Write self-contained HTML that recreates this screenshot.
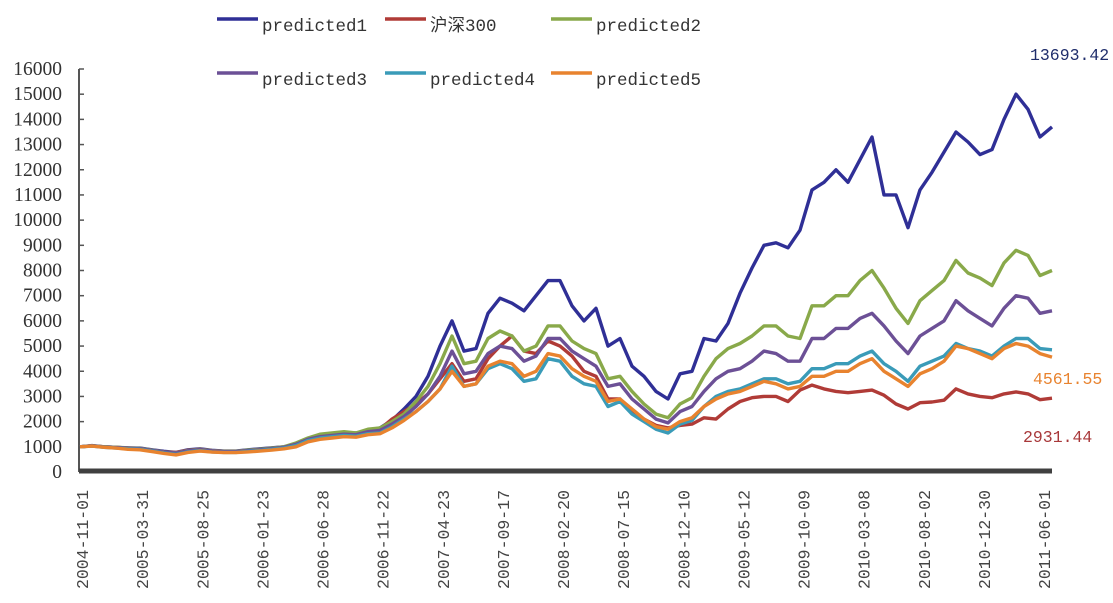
<!DOCTYPE html>
<html><head><meta charset="utf-8"><style>
body{margin:0;background:#fff;}
svg{display:block;}
</style></head><body>
<svg id="chart" width="1113" height="603" viewBox="0 0 1113 603" xmlns="http://www.w3.org/2000/svg"></svg>
<script>
const categories = ["2004-11-01","2005-03-31","2005-08-25","2006-01-23","2006-06-28","2006-11-22","2007-04-23","2007-09-17","2008-02-20","2008-07-15","2008-12-10","2009-05-12","2009-10-09","2010-03-08","2010-08-02","2010-12-30","2011-06-01"];
const yTicks = [0,1000,2000,3000,4000,5000,6000,7000,8000,9000,10000,11000,12000,13000,14000,15000,16000];
const seriesNames = ["predicted1","沪深300","predicted2","predicted3","predicted4","predicted5"];
const predicted1 = [1000,1050,1000,980,950,950,880,820,780,880,920,860,830,830,880,920,960,1000,1100,1300,1450,1500,1550,1550,1650,1750,2050,2500,3000,3800,5000,6000,4800,4900,6300,6900,6700,6400,7000,7600,7600,6600,6000,6500,5000,5300,4200,3800,3200,2900,3900,4000,5300,5200,5900,7100,8100,9000,9100,8900,9600,11200,11500,12000,11500,12400,13300,11000,11000,9700,11200,11900,12700,13500,13100,12600,12800,14000,15000,14400,13300,13700];
const hs300 = [1000,1040,1000,980,950,930,860,800,780,860,900,850,820,820,850,880,920,960,1050,1250,1400,1450,1500,1480,1600,1700,2100,2400,2700,3100,3700,4300,3600,3700,4500,5000,5400,4800,4700,5200,5000,4600,4000,3800,2900,2900,2400,2100,1850,1750,1850,1900,2150,2100,2500,2800,2950,3000,3000,2800,3250,3450,3300,3200,3150,3200,3250,3050,2700,2500,2750,2780,2850,3300,3100,3000,2950,3100,3180,3100,2870,2930];
const predicted2 = [1000,1040,1000,980,960,940,870,800,760,850,900,850,820,820,870,900,950,1000,1150,1350,1500,1550,1600,1550,1700,1750,2000,2300,2800,3400,4300,5400,4300,4400,5300,5600,5400,4800,5000,5800,5800,5200,4900,4700,3700,3800,3200,2700,2300,2150,2700,2950,3800,4500,4900,5100,5400,5800,5800,5400,5300,6600,6600,7000,7000,7600,8000,7300,6500,5900,6800,7200,7600,8400,7900,7700,7400,8300,8800,8600,7800,8000];
const predicted3 = [1000,1040,990,970,950,930,860,790,750,840,890,840,810,810,850,880,930,980,1100,1300,1400,1450,1500,1480,1600,1650,1900,2200,2600,3100,3800,4800,3900,4000,4700,5000,4900,4400,4600,5300,5300,4800,4500,4200,3400,3500,2900,2500,2100,1950,2400,2600,3200,3700,4000,4100,4400,4800,4700,4400,4400,5300,5300,5700,5700,6100,6300,5800,5200,4700,5400,5700,6000,6800,6400,6100,5800,6500,7000,6900,6300,6400];
const predicted4 = [1000,1030,980,950,920,900,830,760,700,800,850,800,780,780,820,850,900,950,1050,1250,1350,1400,1450,1420,1520,1550,1800,2100,2400,2800,3300,4200,3400,3500,4100,4300,4100,3600,3700,4500,4400,3800,3500,3400,2600,2800,2300,2000,1700,1550,1900,2050,2600,3000,3200,3300,3500,3700,3700,3500,3600,4100,4100,4300,4300,4600,4800,4300,4000,3600,4200,4400,4600,5100,4900,4800,4600,5000,5300,5300,4900,4850];
const predicted5 = [1000,1030,980,950,900,880,810,740,680,780,830,790,770,770,800,830,870,920,1000,1200,1300,1350,1400,1380,1480,1520,1750,2050,2400,2800,3300,4000,3400,3500,4200,4400,4300,3800,4000,4700,4600,4100,3800,3600,2800,2900,2500,2100,1800,1700,2000,2150,2600,2900,3100,3200,3400,3600,3500,3300,3400,3800,3800,4000,4000,4300,4500,4000,3700,3400,3900,4100,4400,5000,4900,4700,4500,4900,5100,5000,4700,4561.55];
const endLabels = ["13693.42","4561.55","2931.44"];

const NS="http://www.w3.org/2000/svg";
const svg=document.getElementById('chart');
const X0=80,X1=1052,Y0=472,Y1=69;
const yMax=16000;
function yScale(v){return Y0-(v/yMax)*(Y0-Y1);}
function xIdx(i,n){return X0+i*(X1-X0)/(n-1);}
function xCat(k){return X0+2+k*(X1-10-X0)/(categories.length-1);}
function mk(tag,attrs){const e=document.createElementNS(NS,tag);for(const k in attrs)e.setAttribute(k,attrs[k]);svg.appendChild(e);return e;}

const ya=mk('line',{x1:79,y1:Y1,x2:79,y2:Y0,stroke:'#555','stroke-width':2});


yTicks.forEach(v=>{
  const t=mk('line',{x1:79,x2:84,y1:yScale(v),y2:yScale(v),stroke:'#555','stroke-width':1.5});
  
  
  const l=mk('text',{x:62,y:yScale(v)+6,'text-anchor':'end','font-family':'"Liberation Serif", serif','font-size':19.5,fill:'#333'});
  l.textContent=v;
  
  
});
categories.forEach((c,k)=>{
  const x=xCat(k);
  const l=mk('text',{x:0,y:0,transform:`translate(${x+6},490) rotate(-90)`,'text-anchor':'end','font-family':'"Liberation Mono", monospace','font-size':16.5,fill:'#444'});
  l.textContent=c;
  
  
});

const colors=['#2f2f96','#b03b37','#89a94a','#6c5096','#3a9bb8','#e8832f'];
const data=[predicted1,hs300,predicted2,predicted3,predicted4,predicted5];
data.forEach((arr,s)=>{
  const pts=arr.map((v,i)=>xIdx(i,arr.length).toFixed(1)+','+yScale(v).toFixed(1)).join(' ');
  const p=mk('polyline',{points:pts,fill:'none',stroke:colors[s],'stroke-width':3.4,'stroke-linejoin':'round'});
  
  
});

const xa=mk('line',{x1:79,y1:471,x2:1052,y2:471,stroke:'#404040','stroke-width':5});



const legPos=[[217,19],[385,19],[551,19],[217,73],[385,73],[551,73]];
seriesNames.forEach((n,s)=>{
  const [lx,ly]=legPos[s];
  const g=mk('g',{});
  
  
  const ln=document.createElementNS(NS,'line');
  ln.setAttribute('x1',lx);ln.setAttribute('x2',lx+41);ln.setAttribute('y1',ly);ln.setAttribute('y2',ly);
  ln.setAttribute('stroke',colors[s]);ln.setAttribute('stroke-width',3.5);
  
  
  g.appendChild(ln);
  const t=document.createElementNS(NS,'text');
  t.setAttribute('x',lx+45);t.setAttribute('y',ly+12);
  t.setAttribute('font-family','"Liberation Mono", "Noto Sans CJK SC", monospace');
  t.setAttribute('font-size',17.5);t.setAttribute('fill','#333');
  t.textContent=n;
  
  
  g.appendChild(t);
});

const endPos=[[1030,60,'#1f2d6b'],[1033,384,'#e8832f'],[1023,442,'#a8383a']];
endLabels.forEach((txt,i)=>{
  const t=mk('text',{x:endPos[i][0],y:endPos[i][1],'font-family':'"Liberation Mono", monospace','font-size':16.5,fill:endPos[i][2]});
  t.textContent=txt;
  
  
});
</script>
</body></html>
